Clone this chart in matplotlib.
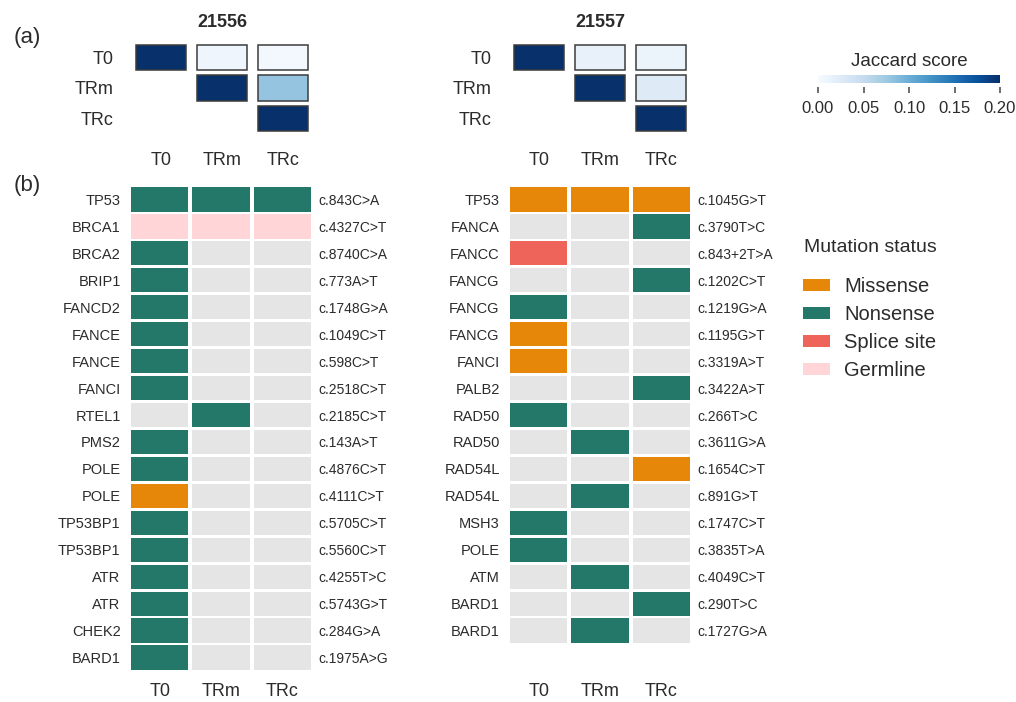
import matplotlib
matplotlib.use("Agg")
import matplotlib.pyplot as plt
import numpy as np
from matplotlib.colors import Normalize
from matplotlib.cm import ScalarMappable
from matplotlib.patches import Patch

plt.rcParams['font.family'] = ['Liberation Sans', 'DejaVu Sans']

# ---- data ----
samples = ['T0', 'TRm', 'TRc']

# Jaccard scores (upper triangle, self-comparison shown at top of scale)
jac_21556 = [[1.0, 0.010, 0.005],
             [None, 1.0, 0.080],
             [None, None, 1.0]]
jac_21557 = [[1.0, 0.015, 0.012],
             [None, 1.0, 0.025],
             [None, None, 1.0]]

genes_21556 = ['TP53', 'BRCA1', 'BRCA2', 'BRIP1', 'FANCD2', 'FANCE', 'FANCE', 'FANCI',
               'RTEL1', 'PMS2', 'POLE', 'POLE', 'TP53BP1', 'TP53BP1', 'ATR', 'ATR',
               'CHEK2', 'BARD1']
variants_21556 = ['c.843C>A', 'c.4327C>T', 'c.8740C>A', 'c.773A>T', 'c.1748G>A',
                  'c.1049C>T', 'c.598C>T', 'c.2518C>T', 'c.2185C>T', 'c.143A>T',
                  'c.4876C>T', 'c.4111C>T', 'c.5705C>T', 'c.5560C>T', 'c.4255T>C',
                  'c.5743G>T', 'c.284G>A', 'c.1975A>G']
status_21556 = ['NNN', 'GGG', 'N--', 'N--', 'N--', 'N--', 'N--', 'N--', '-N-',
                'N--', 'N--', 'M--', 'N--', 'N--', 'N--', 'N--', 'N--', 'N--']

genes_21557 = ['TP53', 'FANCA', 'FANCC', 'FANCG', 'FANCG', 'FANCG', 'FANCI', 'PALB2',
               'RAD50', 'RAD50', 'RAD54L', 'RAD54L', 'MSH3', 'POLE', 'ATM', 'BARD1', 'BARD1']
variants_21557 = ['c.1045G>T', 'c.3790T>C', 'c.843+2T>A', 'c.1202C>T', 'c.1219G>A',
                  'c.1195G>T', 'c.3319A>T', 'c.3422A>T', 'c.266T>C', 'c.3611G>A',
                  'c.1654C>T', 'c.891G>T', 'c.1747C>T', 'c.3835T>A', 'c.4049C>T',
                  'c.290T>C', 'c.1727G>A']
status_21557 = ['MMM', '--N', 'S--', '--N', 'N--', 'M--', 'M--', '--N', 'N--',
                '-N-', '--M', '-N-', 'N--', 'N--', '-N-', '--N', '-N-']

status_names = {'M': 'Missense', 'N': 'Nonsense', 'S': 'Splice site', 'G': 'Germline'}
status_colors = {'M': '#e6870a', 'N': '#24786a', 'S': '#ee645a', 'G': '#ffd5d8', '-': '#e5e5e5'}

TXT = '#2b2b2b'
W, H = 1016, 702
fig = plt.figure(figsize=(W / 100, H / 100), dpi=100)


def px_axes(left, top, right, bottom):
    return fig.add_axes([left / W, 1 - bottom / H, (right - left) / W, (bottom - top) / H])


cmap = plt.get_cmap('Blues')
norm = Normalize(0, 0.2, clip=True)


def jaccard_panel(ax, mat, title):
    for i in range(3):
        for j in range(3):
            v = mat[i][j]
            if v is None:
                continue
            ax.bar(j, 0.82, bottom=i - 0.41, width=0.815, color=cmap(norm(v)),
                   edgecolor='#3c3c3c', linewidth=1.1)
    ax.set_xlim(-0.5, 2.5)
    ax.set_ylim(2.5, -0.5)
    ax.set_yticks(range(3), samples, fontsize=13, color=TXT)
    ax.set_xticks(range(3), samples, fontsize=13, color=TXT)
    ax.tick_params(length=0, axis='y', pad=12)
    ax.tick_params(length=0, axis='x', pad=13)
    for s in ax.spines.values():
        s.set_visible(False)
    ax.set_title(title, fontsize=13, fontweight='bold', color=TXT, pad=11)


def mutation_panel(ax, genes, variants, status, nrows):
    for i, st in enumerate(status):
        for j, code in enumerate(st):
            ax.bar(j, 0.9, bottom=i - 0.45, width=0.94, color=status_colors[code])
    ax.set_xlim(-0.5, 2.5)
    ax.set_ylim(nrows - 0.5, -0.5)
    ax.set_yticks(range(len(genes)), genes, fontsize=10.5, color=TXT)
    ax.set_xticks(range(3), samples, fontsize=13, color=TXT)
    ax.tick_params(length=0, axis='y', pad=6)
    ax.tick_params(length=0, axis='x', pad=9)
    ax2 = ax.twinx()
    ax2.set_ylim(nrows - 0.5, -0.5)
    ax2.set_yticks(range(len(variants)), variants, fontsize=10, color=TXT)
    ax2.tick_params(length=0, pad=4)
    for a in (ax, ax2):
        for s in a.spines.values():
            s.set_visible(False)


# (a) Jaccard heatmaps
ax_a1 = px_axes(130, 42, 314, 134)
jaccard_panel(ax_a1, jac_21556, '21556')
ax_a2 = px_axes(508, 42, 692, 134)
jaccard_panel(ax_a2, jac_21557, '21557')

# colorbar
cax = px_axes(818, 75, 1000, 83)
cb = fig.colorbar(ScalarMappable(norm=norm, cmap=cmap), cax=cax, orientation='horizontal')
cb.set_ticks([0, 0.05, 0.10, 0.15, 0.20])
cb.set_ticklabels(['0.00', '0.05', '0.10', '0.15', '0.20'])
cb.outline.set_visible(False)
cax.spines['bottom'].set_position(('outward', 3))
cax.tick_params(labelsize=12, colors='#555555', labelcolor=TXT, length=4, width=1.2, pad=6)
fig.text(909 / W, 1 - 62 / H, 'Jaccard score', fontsize=13.5, color=TXT,
         ha='center', va='center')

# (b) mutation status grids
ax_b1 = px_axes(129, 186, 313, 671)
mutation_panel(ax_b1, genes_21556, variants_21556, status_21556, 18)
ax_b2 = px_axes(508, 186, 692, 671)
mutation_panel(ax_b2, genes_21557, variants_21557, status_21557, 18)

# legend
fig.text(804 / W, 1 - 247 / H, 'Mutation status', fontsize=14, color=TXT, va='center')
handles = [Patch(facecolor=status_colors[k], label=status_names[k]) for k in 'MNSG']
leg = fig.legend(handles=handles, loc='upper left', bbox_to_anchor=(803 / W, 1 - 277 / H),
                 frameon=False, fontsize=14.5, handlelength=1.35, handleheight=0.5,
                 handletextpad=0.7, labelspacing=0.45, borderpad=0, borderaxespad=0)
for t in leg.get_texts():
    t.set_color(TXT)

fig.text(14 / W, 1 - 37 / H, '(a)', fontsize=16, color=TXT, va='center')
fig.text(14 / W, 1 - 186 / H, '(b)', fontsize=16, color=TXT, va='center')

fig.savefig('out.png', dpi=100)
